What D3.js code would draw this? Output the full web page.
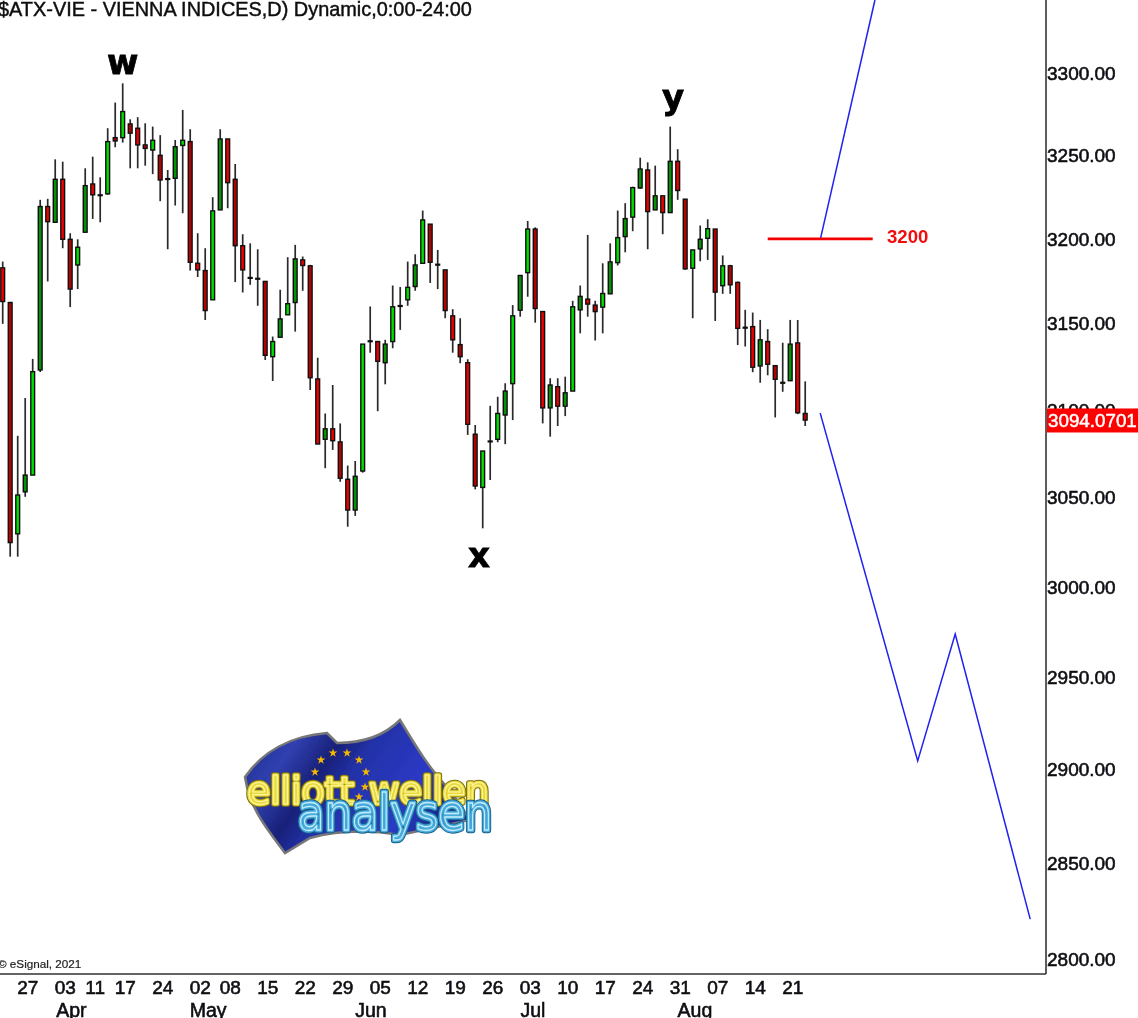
<!DOCTYPE html>
<html><head><meta charset="utf-8">
<script src="https://cdn.jsdelivr.net/npm/d3@7"></script>
<style>
html,body{margin:0;padding:0;background:#fff;overflow:hidden}
svg{display:block}
text{font-family:"Liberation Sans",Arial,sans-serif}
</style></head><body><svg id="c" width="1138" height="1018"></svg>
<script>
const title = "$ATX-VIE - VIENNA INDICES,D) Dynamic,0:00-24:00";
const opens = [3182.9,3162.5,3029.7,3053.4,3062.9,3123.2,3219.3,3209.9,3235.6,3199.8,3184.6,3204,3232.8,3226.3,3226.9,3260.7,3260.7,3269,3266.4,3256.3,3253.2,3250,3236,3236.2,3256,3258.3,3185.6,3181.3,3164.1,3217.3,3259.9,3235.6,3196,3177.2,3176.7,3174.9,3130.9,3142.2,3155.3,3162.5,3187.6,3184.1,3118,3083.3,3089.3,3081.8,3060.5,3043.1,3065.2,3140.1,3139.7,3127.4,3139.7,3160.7,3164.1,3171.9,3185.6,3208.8,3185,3181.7,3154.7,3137.9,3127.4,3086.2,3055.9,3082.3,3083.3,3097.2,3115.3,3158,3180.1,3205.9,3157.2,3101.3,3113.5,3102.3,3111,3158.2,3164.5,3161,3159.8,3167.6,3186,3201.4,3213,3230.4,3241.2,3217.3,3225.7,3215.7,3246.4,3223.7,3182.7,3194.1,3200.4,3205.9,3172.4,3184.1,3174.3,3148,3148.4,3125.5,3139.7,3125.7,3116,3117,3138.9,3098.1];
const highs = [3186.6,3162.9,3085.3,3107,3129.6,3223.3,3223.9,3247.6,3246.2,3203.4,3199.8,3242.2,3249.2,3236.8,3266.4,3282,3293.7,3271.8,3273.1,3269.4,3267.4,3262.2,3241.2,3259.3,3277.5,3265.8,3203.4,3194.5,3224.9,3265.8,3259.9,3244.8,3202.8,3197.4,3193.9,3174.9,3142.6,3170,3189.2,3196.5,3189.6,3184.7,3130.3,3098.1,3114.5,3092.4,3068.3,3070.9,3138.2,3160.2,3139.7,3140.7,3172.5,3171.6,3186.6,3190.9,3216.9,3208.8,3193.5,3181.7,3158.6,3153.3,3129.4,3091.5,3076.6,3102.5,3107.7,3115.5,3161,3178.4,3210.7,3206.9,3157.2,3118.4,3118.4,3119.3,3163.5,3172.5,3202.4,3163.5,3185.6,3197.4,3216.9,3221.3,3231.2,3248.6,3245.8,3243.8,3225.7,3267.4,3253.7,3223.7,3193.5,3208,3211.7,3205.9,3190.2,3184.7,3174.9,3158.2,3156.6,3152.3,3146.9,3125.7,3139,3152.3,3152.3,3116.6];
const lows = [3150,3016.9,3016.9,3050.6,3062.9,3122,3174.9,3209.5,3194.5,3159.8,3170.4,3204,3211.9,3209.9,3226.3,3254.9,3257.7,3242.2,3242.2,3243.8,3238.7,3222.5,3193.9,3219.9,3215.3,3181.3,3177.5,3152.3,3164.1,3217.3,3218.3,3174.5,3168.4,3172.9,3160.6,3129,3116.8,3142.2,3155.3,3145.5,3169.4,3111.6,3080.6,3066.8,3077.2,3059.1,3033.7,3039.8,3064.3,3133.2,3099.4,3114.9,3135.8,3146.5,3160.6,3169.4,3185.6,3174,3170.4,3153.3,3133.2,3127.1,3085.8,3054.8,3032.8,3060.1,3081.6,3080.5,3094.3,3154.2,3165.9,3150.7,3092.4,3084.8,3090.9,3096.6,3111,3144.5,3154.2,3140.3,3144.5,3167.6,3184.3,3192.1,3204.6,3229.9,3193.9,3217.3,3202.8,3215.7,3223.3,3181.7,3153.3,3186.8,3187.6,3151.7,3167.6,3167.6,3137.7,3136.8,3121.9,3115.8,3120.1,3095.8,3110.6,3117,3097.7,3090.9];
const closes = [3163.1,3024.8,3051.6,3062.9,3122.2,3219.3,3210.3,3235.6,3199.8,3170.4,3195.1,3231.8,3226.3,3226.3,3258.3,3258.7,3276.5,3263.4,3256.3,3254.2,3259.1,3235.2,3236,3255.2,3259.1,3186.2,3181.7,3157.8,3216.7,3259.9,3233.6,3196,3181.7,3177.2,3176.7,3131.7,3139.7,3152.9,3161.8,3188.2,3184.3,3118.7,3080.6,3089.3,3082.5,3061.1,3043.1,3062.2,3138.2,3140.1,3128.2,3138.2,3160,3160.7,3171.4,3184.6,3211.3,3186.2,3185,3157.8,3140.7,3130.9,3091.9,3056.7,3076.6,3082.3,3098.1,3111,3154.7,3178.4,3205.9,3159,3101.3,3114.5,3102.3,3110,3160,3166.1,3161.6,3157.2,3167.8,3186.4,3200.8,3212.1,3230.6,3241.8,3216.3,3225.7,3215.7,3246.4,3228.9,3182.3,3193.5,3199.8,3206.1,3168.6,3184.1,3172.9,3147.4,3148,3124.8,3140.7,3126.5,3117.8,3116,3138.2,3098.5,3094.3];

const priceTicks = [3300,3250,3200,3150,3100,3050,3000,2950,2900,2850,2800];
const dayIndex = [3,8,12,16,21,26,30,35,40,45,50,55,60,65,70,75,80,85,90,95,100,105];
const dayLabels = ["27","03","11","17","24","02","08","15","22","29","05","12","19","26","03","10","17","24","31","07","14","21"];
const monthIndex = [9.15,27.4,49.1,70.7,92.3];
const monthLabels = ["Apr","May","Jun","Jul","Aug"];

const lastPrice = 3094.0701;
const levelPrice = 3200, levelIndex = [102,116];
const upPathIndex = [109,116.3], upPathPrice = [3199.5,3345];
const downPathIndex = [109,122,127,137], downPathPrice = [3098.3,2904.8,2973.9,2820.8];
const waveLabels = ["w","x","y"], waveIndex = [16,63.5,89.4], wavePrice = [3299.5,3011,3278];

const W=1138,H=1018,plotR=1046,plotB=974;
const svg = d3.select("#c");
const defs = svg.append("defs");
const x = d3.scaleLinear().domain([0,107]).range([2.7,805.2]);
const y = d3.scaleLog().domain([2791.7,3345]).range([plotB+1,0]);
const soft = defs.append("filter").attr("id","soft").attr("x","-5%").attr("y","-5%").attr("width","110%").attr("height","110%");
soft.append("feGaussianBlur").attr("stdDeviation",0.35);

const chart = svg.append("g").attr("filter","url(#soft)");

// candles
const idx = d3.range(opens.length);
const col = i => {
  const up = closes[i] >= opens[i], odd = i%2===1;
  return up ? (odd?"#009400":"#00e000") : (odd?"#b40000":"#ee0000");
};
const candles = chart.append("g").selectAll("g").data(idx).join("g");
candles.append("line")
  .attr("x1",i=>x(i)).attr("x2",i=>x(i))
  .attr("y1",i=>y(highs[i])).attr("y2",i=>y(lows[i]))
  .attr("stroke","#2a2a2a").attr("stroke-width",1.7);
candles.append("rect")
  .attr("x",i=>x(i)-1.9).attr("width",3.8)
  .attr("y",i=>y(Math.max(opens[i],closes[i])))
  .attr("height",i=>Math.max(0.8,Math.abs(y(opens[i])-y(closes[i]))))
  .attr("fill",col).attr("stroke","#111").attr("stroke-width",1.4);

// forecast
const ln = d3.line().x(d=>x(d[0])).y(d=>y(d[1]));
chart.append("path").datum(d3.zip(upPathIndex,upPathPrice)).attr("d",ln)
  .attr("fill","none").attr("stroke","#2020f0").attr("stroke-width",1.5);
chart.append("path").datum(d3.zip(downPathIndex,downPathPrice)).attr("d",ln)
  .attr("fill","none").attr("stroke","#2020f0").attr("stroke-width",1.5);
chart.append("path").datum(levelIndex.map(i=>[i,levelPrice])).attr("d",ln)
  .attr("fill","none").attr("stroke","#f40000").attr("stroke-width",2.8);
chart.append("text").attr("x",887).attr("y",y(levelPrice)+4).text("3200")
  .attr("fill","#f01010").attr("font-size",18.6).attr("font-weight","bold");

// wave labels
chart.append("g").selectAll("text").data(waveLabels).join("text")
  .attr("x",(d,i)=>x(waveIndex[i])).attr("y",(d,i)=>y(wavePrice[i]))
  .attr("text-anchor","middle").text(d=>d)
  .attr("font-size",34).attr("font-weight","bold").attr("fill","#000")
  .attr("stroke","#000").attr("stroke-width",0.8)
  .style("font-family","'DejaVu Sans'");

// axes
const inkW = 0.55, ink = "#0a0a10";
const yAxis = d3.axisRight(y).tickValues(priceTicks).tickFormat(d3.format(".2f")).tickSize(0).tickPadding(1);
const gy = chart.append("g").attr("transform",`translate(${plotR},0)`).call(yAxis);
gy.select(".domain").remove();
gy.selectAll("text").attr("font-size",19).attr("fill",ink).attr("stroke",ink).attr("stroke-width",inkW);

const xAxis = d3.axisBottom(x).tickValues(dayIndex).tickFormat((d,i)=>dayLabels[i]).tickSize(0).tickPadding(7);
const gx = chart.append("g").attr("transform",`translate(2,${plotB})`).call(xAxis);
gx.select(".domain").remove();
gx.selectAll("text").attr("font-size",19).attr("fill",ink).attr("stroke",ink).attr("stroke-width",inkW);

chart.append("g").selectAll("text").data(monthLabels).join("text")
  .attr("x",(d,i)=>x(monthIndex[i])).attr("y",1017).attr("text-anchor","middle").text(d=>d)
  .attr("font-size",19.5).attr("fill",ink).attr("stroke",ink).attr("stroke-width",inkW);

chart.append("line").attr("x1",0).attr("x2",plotR).attr("y1",plotB).attr("y2",plotB).attr("stroke","#333").attr("stroke-width",1.6);
chart.append("line").attr("x1",plotR).attr("x2",plotR).attr("y1",0).attr("y2",plotB).attr("stroke","#333").attr("stroke-width",1.6);

// last price box
const by = y(lastPrice);
chart.append("rect").attr("x",plotR+1).attr("y",by-12).attr("width",W-plotR).attr("height",24).attr("fill","#ff0000");
chart.append("text").attr("x",plotR+2).attr("y",by+7).text(d3.format(".4f")(lastPrice))
  .attr("fill","#fff").attr("font-size",18.8).attr("stroke","#fff").attr("stroke-width",0.5);

// title and credit
chart.append("text").attr("x",-2).attr("y",15.5).text(title)
  .attr("font-size",19.9).attr("fill","#111").attr("stroke","#111").attr("stroke-width",0.45);
chart.append("text").attr("x",-2).attr("y",968).text("© eSignal, 2021")
  .attr("font-size",11.7).attr("fill","#222").attr("stroke","#222").attr("stroke-width",0.2);

// logo
const logo = svg.append("g").attr("class","logo");
const grad = defs.append("linearGradient").attr("id","flag").attr("x1","0").attr("y1","0").attr("x2","1").attr("y2","0.4");
[[0,"#1c2a8a"],[0.25,"#3040b0"],[0.42,"#182078"],[0.55,"#2332a8"],[0.85,"#2c3ac8"],[1,"#1a2490"]].forEach(s=>grad.append("stop").attr("offset",s[0]).attr("stop-color",s[1]));
const shadow = defs.append("filter").attr("id","ls").attr("x","-10%").attr("y","-10%").attr("width","120%").attr("height","120%");
shadow.append("feGaussianBlur").attr("stdDeviation",0.5);
logo.append("path")
  .attr("d","M245,777 C262,752 290,736 327,733 L337,743 C365,743 385,735 400,720 C415,745 430,770 450,790 L470,820 L400,835 C370,830 340,830 310,838 L285,853 C268,830 250,810 245,777 Z")
  .attr("fill","url(#flag)").attr("stroke","#777").attr("stroke-width",2.5).attr("filter","url(#ls)");
const starPts = [[333,753],[347,753],[359,760],[366,772],[365,787],[359,797],[321,760],[315,772]];
logo.append("g").selectAll("path").data(starPts).join("path")
  .attr("transform",d=>`translate(${d[0]},${d[1]})`)
  .attr("d",d3.symbol(d3.symbolStar,24)).attr("fill","#f5b800");
const word = (s,x0,yb,len,size,colors,ws)=>{
  const g = logo.append("g").attr("filter","url(#ls)");
  ws.forEach((w,k)=>{
    g.append("text").attr("x",x0).attr("y",yb).text(s)
      .attr("textLength",len).attr("lengthAdjust","spacingAndGlyphs")
      .style("font-family","'DejaVu Sans'").attr("font-size",size)
      .attr("fill","none").attr("stroke",colors[k]).attr("stroke-width",w)
      .attr("stroke-linejoin","round").attr("stroke-linecap","round");
  });
};
const gold = ["#7a6e14","#e8d838","#fdf6a0"], sky = ["#175f8c","#46aadb","#c2ecfa"];
word("elliott",247,804,107,37,gold,[5.6,3.6,1.1]);
word("wellen",369,804,120,37,gold,[5.6,3.6,1.1]);
word("analysen",298,830,194,50,sky,[6.4,4.4,1.3]);
</script></body></html>
